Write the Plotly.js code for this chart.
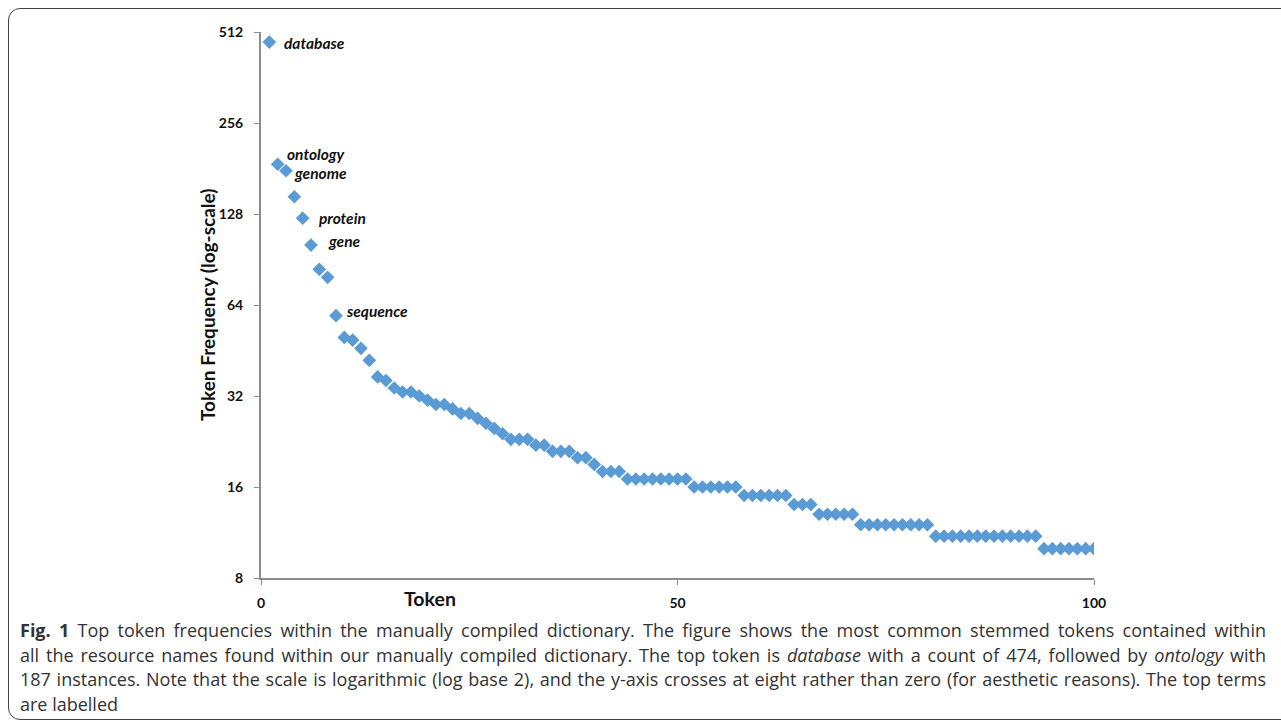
<!DOCTYPE html>
<html>
<head>
<meta charset="utf-8">
<script src="https://cdn.plot.ly/plotly-3.0.1.min.js"></script>
<style>
  html, body { margin:0; padding:0; background:#fff; }
  #wrap { position:relative; width:1281px; height:728px; overflow:hidden; }
  #chart { position:absolute; left:0; top:0; width:1281px; height:728px; }
  #frame { position:absolute; left:8px; top:8px; width:1300px; height:710px;
           border:1px solid #444; border-radius:12px; pointer-events:none; }
  #caption { position:absolute; left:20px; top:618px; width:1246px;
             font-family:'Open Sans','Noto Sans',sans-serif; font-size:18px;
             line-height:24.7px; color:#333; }
  #caption .ln { white-space:nowrap; text-align:justify; text-align-last:justify; }
  #caption .ln.last { text-align:left; text-align-last:left; }
</style>
</head>
<body>
<div id="wrap">
  <div id="chart"></div>
  <div id="caption"></div>
  <div id="frame"></div>
</div>
<script>
// Rank of each token (1..100)
const ranks = [
  1,2,3,4,5,6,7,8,9,10,11,12,13,14,15,16,17,18,19,20,
  21,22,23,24,25,26,27,28,29,30,31,32,33,34,35,36,37,38,39,40,
  41,42,43,44,45,46,47,48,49,50,51,52,53,54,55,56,57,58,59,60,
  61,62,63,64,65,66,67,68,69,70,71,72,73,74,75,76,77,78,79,80,
  81,82,83,84,85,86,87,88,89,90,91,92,93,94,95,96,97,98,99,100
];
// Token frequencies
const frequencies = [
  474,187,178,146,124,101,84,79,59,50,
  49,46,42,37,36,34,33,33,32,31,
  30,30,29,28,28,27,26,25,24,23,
  23,23,22,22,21,21,21,20,20,19,
  18,18,18,17,17,17,17,17,17,17,
  17,16,16,16,16,16,16,15,15,15,
  15,15,15,14,14,14,13,13,13,13,
  13,12,12,12,12,12,12,12,12,12,
  11,11,11,11,11,11,11,11,11,11,
  11,11,11,10,10,10,10,10,10,10
];
// Labelled top terms
const labelNames = ["database","ontology","genome","protein","gene","sequence"];
const labelRanks = [1,2,3,5,6,9];
const labelShiftX = [13,7,6,14,15,8];
const labelShiftY = [-1,10,-2,0,4,5];

const yTickVals = [8,16,32,64,128,256,512];
const yTickText = ["8","16","32","64","128","256","512"];
const xTickVals = [0,50,100];

const captionLines = [
  "<b>Fig. 1</b> Top token frequencies within the manually compiled dictionary. The figure shows the most common stemmed tokens contained within",
  "all the resource names found within our manually compiled dictionary. The top token is <i>database</i> with a count of 474, followed by <i>ontology</i> with",
  "187 instances. Note that the scale is logarithmic (log base 2), and the y-axis crosses at eight rather than zero (for aesthetic reasons). The top terms",
  "are labelled"
];

const cap = document.getElementById('caption');
captionLines.forEach((t, i) => {
  const d = document.createElement('div');
  d.className = 'ln' + (i === captionLines.length - 1 ? ' last' : '');
  d.innerHTML = t;
  cap.appendChild(d);
});

const chartFont = "Lato, 'Open Sans', sans-serif";

const L = 261, R = 1094, T = 32, B = 578, W = 1281, H = 728;
const px2x = p => (p - L) / (R - L);
const py2y = p => (B - p) / (B - T);

const annotations = [];
labelNames.forEach((name, k) => {
  const r = labelRanks[k];
  const v = frequencies[ranks.indexOf(r)];
  annotations.push({
    x: r, y: Math.log10(v), xref: 'x', yref: 'y',
    text: '<b><i>' + name + '</i></b>', showarrow: false,
    xanchor: 'left', yanchor: 'middle',
    xshift: labelShiftX[k], yshift: labelShiftY[k],
    font: { family: chartFont, size: 15.5, color: '#111' }
  });
});
annotations.push({
  x: px2x(430), y: py2y(598), xref: 'paper', yref: 'paper',
  text: '<b>Token</b>', showarrow: false, xanchor: 'center', yanchor: 'middle',
  font: { family: chartFont, size: 19.5, color: '#111' }
});
annotations.push({
  x: px2x(207), y: 0.5, xref: 'paper', yref: 'paper',
  text: '<b>Token Frequency (log-scale)</b>', showarrow: false, textangle: -90,
  xanchor: 'center', yanchor: 'middle',
  font: { family: chartFont, size: 19, color: '#111' }
});

const trace = {
  x: ranks, y: frequencies, type: 'scatter', mode: 'markers',
  marker: { symbol: 'diamond', size: 10.5, color: '#5B9BD5', line: { width: 0 } },
  hoverinfo: 'x+y'
};

const layout = {
  width: W, height: H,
  margin: { l: L, r: W - R, t: T, b: H - B, pad: 0 },
  paper_bgcolor: 'rgba(0,0,0,0)', plot_bgcolor: 'rgba(0,0,0,0)',
  showlegend: false,
  xaxis: {
    range: [0, 100], tickvals: xTickVals, ticktext: xTickVals.map(String),
    showgrid: false, zeroline: false, showline: true, linecolor: '#8c8c8c', linewidth: 2,
    ticks: 'outside', ticklen: 5, tickcolor: '#8c8c8c', tickwidth: 1,
    tickfont: { family: chartFont, size: 14, color: '#111', weight: 'bold' },
    ticklabelstandoff: 6
  },
  yaxis: {
    type: 'log', range: [Math.log10(8), Math.log10(512)],
    tickvals: yTickVals, ticktext: yTickText,
    showgrid: false, zeroline: false, showline: true, linecolor: '#8c8c8c', linewidth: 2,
    ticks: 'outside', ticklen: 5, tickcolor: '#8c8c8c', tickwidth: 1,
    tickfont: { family: chartFont, size: 14, color: '#111', weight: 'bold' },
    ticklabelstandoff: 8
  },
  annotations: annotations
};

Plotly.newPlot('chart', [trace], layout, { displayModeBar: false, staticPlot: true });
</script>
</body>
</html>
